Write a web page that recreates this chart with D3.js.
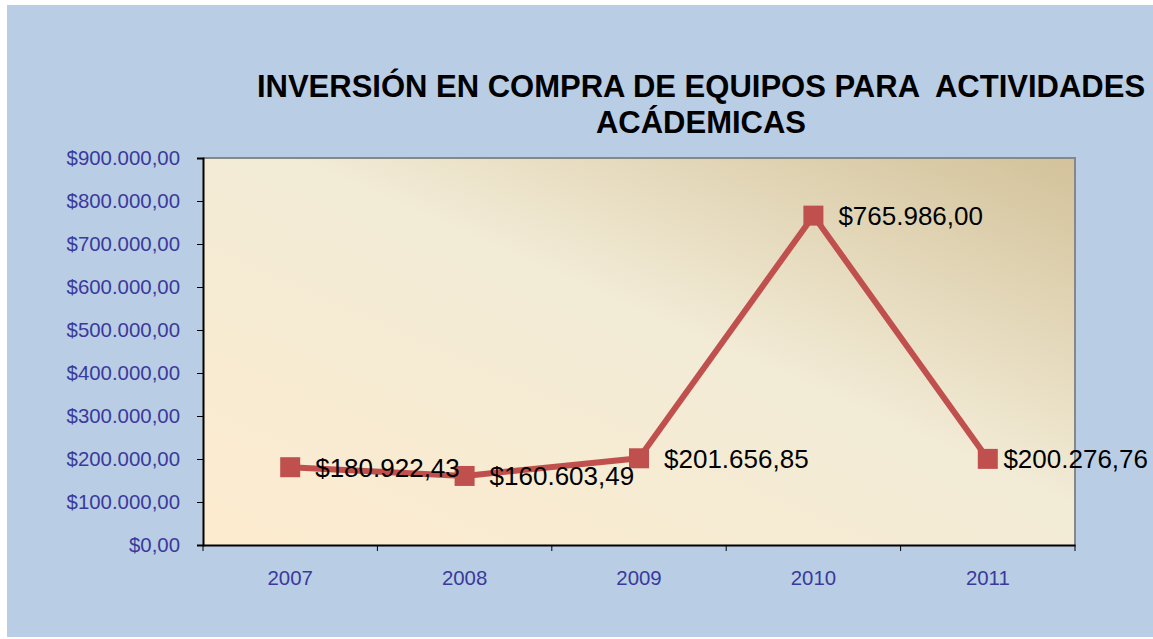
<!DOCTYPE html>
<html>
<head>
<meta charset="utf-8">
<script src="https://cdn.jsdelivr.net/npm/d3@7"></script>
<style>
    body { margin: 0; background: #fff; }
    svg { display: block; font-family: Arial, "Liberation Sans", sans-serif; }
</style>
</head>
<body>
<svg id="chart" width="1153" height="639"></svg>
<script>
const years = ["2007", "2008", "2009", "2010", "2011"];
const inversion = [180922.43, 160603.49, 201656.85, 765986.0, 200276.76];
const yTicks = [0, 100000, 200000, 300000, 400000, 500000, 600000, 700000, 800000, 900000];
const titleLines = ["INVERSIÓN EN COMPRA DE EQUIPOS PARA  ACTIVIDADES", "ACÁDEMICAS"];

const svg = d3.select("#chart");
const plot = { left: 203, top: 158, right: 1075, bottom: 545 };

// es-style money: $765.986,00
const money = v => {
    const parts = v.toFixed(2).split(".");
    const ent = parts[0].replace(/\B(?=(\d{3})+(?!\d))/g, ".");
    return "$" + ent + "," + parts[1];
};

// outer background
svg.append("rect")
    .attr("x", 7).attr("y", 5)
    .attr("width", 1146).attr("height", 632)
    .attr("fill", "#b9cde5");

// plot gradient
const defs = svg.append("defs");
const grad = defs.append("linearGradient")
    .attr("id", "plotGrad")
    .attr("x1", "0%").attr("y1", "100%")
    .attr("x2", "100%").attr("y2", "0%");
grad.append("stop").attr("offset", "0%").attr("stop-color", "#fdebcf");
grad.append("stop").attr("offset", "55%").attr("stop-color", "#f2ebd6");
grad.append("stop").attr("offset", "100%").attr("stop-color", "#d3c29a");

svg.append("rect")
    .attr("x", plot.left).attr("y", plot.top)
    .attr("width", plot.right - plot.left)
    .attr("height", plot.bottom - plot.top)
    .attr("fill", "url(#plotGrad)");

// top/right border in grey
svg.append("path")
    .attr("d", `M${plot.left},${plot.top}H${plot.right}V${plot.bottom}`)
    .attr("fill", "none")
    .attr("stroke", "#878787")
    .attr("stroke-width", 2);

const x = d3.scaleBand().domain(years).range([plot.left, plot.right]);
const y = d3.scaleLinear().domain([0, 900000]).range([plot.bottom, plot.top]);

// y axis
const yAxis = svg.append("g")
    .attr("transform", `translate(${plot.left},0)`)
    .call(d3.axisLeft(y).tickValues(yTicks).tickFormat(money).tickSize(6).tickPadding(17));
yAxis.select(".domain").attr("stroke", "#000").attr("stroke-width", 2);
yAxis.selectAll(".tick line").attr("stroke", "#000");
yAxis.selectAll(".tick text")
    .attr("fill", "#3a3a9c")
    .style("font-size", "20.4px");

// x axis: labels centred, ticks at band edges
const xAxis = svg.append("g")
    .attr("transform", `translate(0,${plot.bottom})`)
    .call(d3.axisBottom(x).tickSize(0).tickPadding(26));
xAxis.select(".domain").attr("stroke", "#000").attr("stroke-width", 2);
xAxis.selectAll(".tick text")
    .attr("fill", "#3a3a9c")
    .style("font-size", "20.4px");
xAxis.selectAll("line.edge")
    .data(years.map(d => x(d)).concat([x(years[years.length - 1]) + x.bandwidth()]))
    .join("line")
    .attr("class", "edge")
    .attr("x1", d => d).attr("x2", d => d)
    .attr("y1", 0).attr("y2", 6)
    .attr("stroke", "#000");

// series
const cx = d => x(d) + x.bandwidth() / 2;
const pts = years.map((d, i) => [cx(d), y(inversion[i])]);

svg.append("path")
    .datum(pts)
    .attr("d", d3.line())
    .attr("fill", "none")
    .attr("stroke", "#c0504d")
    .attr("stroke-width", 6)
    .attr("stroke-linejoin", "round");

svg.selectAll("rect.mk")
    .data(pts)
    .join("rect")
    .attr("class", "mk")
    .attr("x", d => d[0] - 10).attr("y", d => d[1] - 10)
    .attr("width", 20).attr("height", 20)
    .attr("fill", "#c0504d");

// data labels to the right, pulled back if they would run off the chart
svg.selectAll("text.lbl")
    .data(inversion)
    .join("text")
    .attr("class", "lbl")
    .attr("y", (d, i) => pts[i][1])
    .attr("dy", "0.36em")
    .style("font-size", "26px")
    .attr("fill", "#000")
    .text(d => money(d))
    .attr("x", function (d, i) {
        const w = this.getComputedTextLength();
        return Math.min(pts[i][0] + 25, 1148 - w);
    });

// title
svg.selectAll("text.title")
    .data(titleLines)
    .join("text")
    .attr("class", "title")
    .attr("x", 701)
    .attr("y", (d, i) => 97 + i * 36)
    .attr("text-anchor", "middle")
    .style("font-size", "31px")
    .style("font-weight", "bold")
    .style("white-space", "pre")
    .attr("fill", "#000")
    .text(d => d);
</script>
</body>
</html>
